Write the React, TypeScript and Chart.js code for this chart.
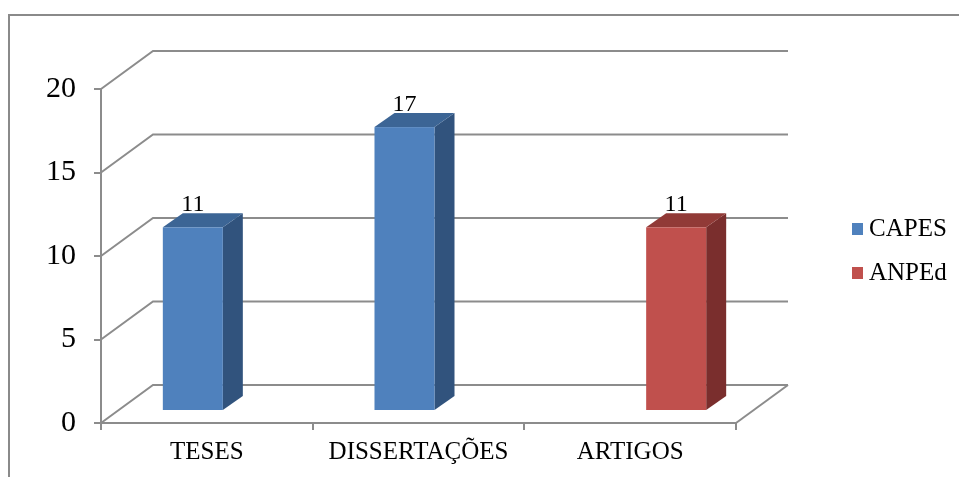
import React, { useEffect, useRef } from 'react';
import { Chart, registerables } from 'chart.js';

Chart.register(...registerables);

// Chart data
const categories = ['TESES', 'DISSERTAÇÕES', 'ARTIGOS'];
const seriesNames = ['CAPES', 'ANPEd'];
const capesValues: (number | null)[] = [11, 17, null];
const anpedValues: (number | null)[] = [null, null, 11];
const yTickValues = [0, 5, 10, 15, 20];

// Styling
const GRID = '#8C8C8C';
const SERIF = '"Liberation Serif", "Times New Roman", serif';
const FACES = [
  { front: '#4F81BD', top: '#3C6595', side: '#31537D' },
  { front: '#C0504D', top: '#913A37', side: '#7A2E2D' },
];

// Oblique projection offsets for the 3D look
const WALL_DX = 52;
const WALL_DY = -38;
const FRONT_DX = 16;
const FRONT_DY = -12;
const DEPTH_DX = 20;
const DEPTH_DY = -14;

const columns3d = {
  id: 'columns3d',
  beforeDraw(chart: any) {
    const { ctx, width, height } = chart;
    ctx.save();
    ctx.strokeStyle = '#8A8A8A';
    ctx.lineWidth = 2;
    ctx.beginPath();
    ctx.moveTo(9, height);
    ctx.lineTo(9, 15);
    ctx.lineTo(width, 15);
    ctx.stroke();
    ctx.restore();
  },
  beforeDatasetsDraw(chart: any) {
    const { ctx, chartArea, scales } = chart;
    const { left, right, bottom } = chartArea;
    const y = scales.y;
    ctx.save();
    ctx.strokeStyle = GRID;
    ctx.lineWidth = 2;
    ctx.lineJoin = 'miter';
    for (const t of y.ticks) {
      const py = y.getPixelForValue(t.value);
      ctx.beginPath();
      ctx.moveTo(left, py);
      ctx.lineTo(left + WALL_DX, py + WALL_DY);
      ctx.lineTo(right + WALL_DX, py + WALL_DY);
      ctx.stroke();
    }
    // right edge of the floor
    ctx.beginPath();
    ctx.moveTo(right, bottom);
    ctx.lineTo(right + WALL_DX, bottom + WALL_DY);
    ctx.stroke();
    ctx.restore();
  },
  beforeDatasetDraw() {
    return false;
  },
  afterDatasetsDraw(chart: any) {
    const { ctx } = chart;
    ctx.save();
    chart.data.datasets.forEach((ds: any, d: number) => {
      const meta = chart.getDatasetMeta(d);
      const faces = FACES[d];
      ds.data.forEach((v: number | null, i: number) => {
        if (v == null || v === 0) return;
        const el = meta.data[i];
        const { x, y, base, width } = el.getProps(['x', 'y', 'base', 'width'], true);
        const l = x - width / 2 + FRONT_DX;
        const r = x + width / 2 + FRONT_DX;
        const t = y + FRONT_DY;
        const b = base + FRONT_DY;
        // side face
        ctx.fillStyle = faces.side;
        ctx.beginPath();
        ctx.moveTo(r, t);
        ctx.lineTo(r + DEPTH_DX, t + DEPTH_DY);
        ctx.lineTo(r + DEPTH_DX, b + DEPTH_DY);
        ctx.lineTo(r, b);
        ctx.closePath();
        ctx.fill();
        // top face
        ctx.fillStyle = faces.top;
        ctx.beginPath();
        ctx.moveTo(l, t);
        ctx.lineTo(l + DEPTH_DX, t + DEPTH_DY);
        ctx.lineTo(r + DEPTH_DX, t + DEPTH_DY);
        ctx.lineTo(r, t);
        ctx.closePath();
        ctx.fill();
        // front face
        ctx.fillStyle = faces.front;
        ctx.fillRect(l, t, r - l, b - t);
        // value label
        ctx.fillStyle = '#000';
        ctx.font = `24px ${SERIF}`;
        ctx.textAlign = 'center';
        ctx.textBaseline = 'alphabetic';
        ctx.fillText(String(v), (l + r) / 2, t + DEPTH_DY - 2);
      });
    });
    ctx.restore();
  },
  afterDraw(chart: any) {
    const { ctx } = chart;
    ctx.save();
    ctx.font = `25px ${SERIF}`;
    ctx.textAlign = 'left';
    ctx.textBaseline = 'middle';
    chart.data.datasets.forEach((ds: any, d: number) => {
      const cy = 229 + d * 44;
      ctx.fillStyle = FACES[d].front;
      ctx.fillRect(852, cy - 6, 11, 12);
      ctx.fillStyle = '#000';
      ctx.fillText(ds.label, 869, cy);
    });
    ctx.restore();
  },
};

export default function App() {
  const ref = useRef<HTMLCanvasElement>(null);

  useEffect(() => {
    if (!ref.current) return;
    const chart = new Chart(ref.current, {
      type: 'bar',
      data: {
        labels: categories,
        datasets: [
          { label: seriesNames[0], data: capesValues, backgroundColor: FACES[0].front },
          { label: seriesNames[1], data: anpedValues, backgroundColor: FACES[1].front },
        ],
      },
      options: {
        responsive: false,
        animation: false,
        layout: { padding: { top: 89, right: 223, left: 0, bottom: 0 } },
        datasets: { bar: { categoryPercentage: 0.567, barPercentage: 1 } },
        plugins: { legend: { display: false }, tooltip: { enabled: false } },
        scales: {
          x: {
            grid: {
              display: true,
              drawOnChartArea: false,
              offset: true,
              tickLength: 7,
              color: GRID,
              lineWidth: 2,
            },
            border: { display: true, color: GRID, width: 2 },
            ticks: {
              color: '#000',
              font: { family: SERIF, size: 25 },
              padding: 7,
              maxRotation: 0,
              autoSkip: false,
            },
            afterFit: (s: any) => {
              s.height = 54;
            },
          },
          y: {
            min: 0,
            max: 20,
            afterBuildTicks: (s: any) => {
              s.ticks = yTickValues.map((v) => ({ value: v }));
            },
            grid: {
              display: true,
              drawOnChartArea: false,
              tickLength: 7,
              color: GRID,
              lineWidth: 2,
            },
            border: { display: true, color: GRID, width: 2 },
            ticks: {
              color: '#000',
              font: { family: SERIF, size: 30 },
              padding: 18,
            },
            afterFit: (s: any) => {
              s.width = 101;
            },
          },
        },
      },
      plugins: [columns3d],
    } as any);
    return () => chart.destroy();
  }, []);

  return (
    <div style={{ position: 'absolute', left: 0, top: 0, width: 959, height: 477, background: '#fff' }}>
      <canvas ref={ref} width={959} height={477} style={{ display: 'block' }} />
    </div>
  );
}
